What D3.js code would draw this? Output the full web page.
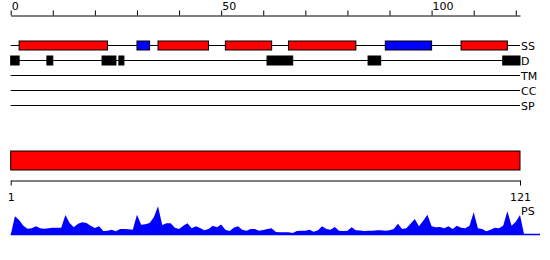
<!DOCTYPE html>
<html>
<head>
<meta charset="utf-8">
<script src="https://cdn.jsdelivr.net/npm/d3@7"></script>
<style>
  body { margin: 0; background: #fff; }
  svg { display: block; font-family: "DejaVu Sans", sans-serif; font-size: 11px; }
</style>
</head>
<body>
<div id="chart"></div>
<script>
'use strict';

// sequence length and ruler ticks
const seqLength = 121;
const topTicks = [0, 10, 20, 30, 40, 50, 60, 70, 80, 90, 100, 110, 120];
const topTickLabels = [0, 50, 100];
const bottomTicks = [1, 121];

// feature tracks
const trackNames = ['SS', 'D', 'TM', 'CC', 'SP'];
const ssHelices = [[2, 23], [35, 47], [51, 62], [66, 82], [107, 118]];
const ssStrands = [[30, 33], [89, 100]];
const disorder = [[0, 2], [8.6, 10], [21.7, 25], [25.7, 26.9], [60.9, 67], [84.9, 87.9], [116.9, 121]];
const domains = [[0, 121]];

// PS profile, residues 1..121
const psValues = [
  18.7, 15, 9.3, 6.3, 6.7, 8.7, 6.7, 6.3, 6.7, 7.3,
  7.3, 7.3, 20, 12, 7.7, 11.3, 12.7, 12, 9.3, 7,
  8.7, 4, 4.3, 5.3, 3.7, 6, 6, 5.7, 5.3, 20.3,
  10.3, 10.7, 12, 17.7, 28.7, 10, 11.7, 11.7, 7.3, 6,
  9.3, 11.7, 6.7, 8.7, 7, 4.7, 6, 9.3, 7.7, 10.5,
  5.3, 4, 7.3, 8.7, 5.3, 4.3, 6, 6, 4.3, 5,
  6, 6.7, 3, 2.7, 2.7, 2.7, 2, 4, 4.3, 4.3,
  5.3, 3.3, 4.7, 8.7, 6, 5.3, 8, 4.3, 4, 4.3,
  7.7, 4.7, 4.5, 4, 4.3, 4.3, 4.7, 4.7, 4.3, 4.7,
  6, 11.3, 6, 6.7, 11.3, 16, 8.7, 14.3, 20.3, 8.7,
  7.7, 8, 6.7, 8.7, 6, 9.3, 7.3, 6.7, 9.3, 22.7,
  6.7, 6, 3.7, 5.3, 7.3, 6.7, 9.3, 23.7, 9.3, 13.3,
  20
];

const width = 550;
const height = 260;
const left = 10.7;
const right = 520;

const svg = d3.select('#chart').append('svg')
  .attr('width', width)
  .attr('height', height);

const x = d3.scaleLinear()
  .domain([0, seqLength])
  .range([left, right]);

const xBottom = d3.scaleLinear()
  .domain([1, seqLength])
  .range([left, right]);

// top ruler
const topAxis = d3.axisTop(x)
  .tickValues(topTicks)
  .tickSize(5)
  .tickSizeOuter(0)
  .tickFormat(d => topTickLabels.includes(d) ? d : '');

const gTop = svg.append('g')
  .attr('transform', 'translate(0, 15.5)')
  .call(topAxis);
gTop.select('.domain').attr('stroke', '#000');
gTop.selectAll('.tick line').attr('stroke', '#000');
gTop.selectAll('.tick text')
  .attr('fill', '#000')
  .attr('text-anchor', 'start')
  .attr('x', 0.5)
  .attr('y', -6)
  .attr('dy', 0)
  .style('font-size', '11px')
  .style('font-family', 'DejaVu Sans');

// tracks
const trackY = d3.scalePoint()
  .domain(trackNames)
  .range([45.5, 105.5]);

svg.append('g')
  .selectAll('line')
  .data(trackNames)
  .join('line')
  .attr('x1', x(0))
  .attr('x2', x(seqLength))
  .attr('y1', d => trackY(d))
  .attr('y2', d => trackY(d))
  .attr('stroke', '#000')
  .attr('stroke-width', 1);

svg.append('g')
  .selectAll('text')
  .data(trackNames)
  .join('text')
  .attr('x', x(seqLength) + 1)
  .attr('y', d => trackY(d) + 4.5)
  .attr('fill', '#000')
  .text(d => d);

function drawBoxes(data, track, fill, boxHeight) {
  svg.append('g')
    .selectAll('rect')
    .data(data)
    .join('rect')
    .attr('x', d => x(d[0]))
    .attr('width', d => x(d[1]) - x(d[0]))
    .attr('y', trackY(track) - boxHeight / 2)
    .attr('height', boxHeight)
    .attr('fill', fill)
    .attr('stroke', '#000')
    .attr('stroke-width', 1);
}

drawBoxes(ssHelices, 'SS', '#ff0000', 9);
drawBoxes(ssStrands, 'SS', '#0000ff', 9);
drawBoxes(disorder, 'D', '#000', 9);

// domain bar
svg.append('g')
  .selectAll('rect')
  .data(domains)
  .join('rect')
  .attr('x', d => x(d[0]))
  .attr('width', d => x(d[1]) - x(d[0]))
  .attr('y', 151)
  .attr('height', 19)
  .attr('fill', '#ff0000')
  .attr('stroke', '#000')
  .attr('stroke-width', 1);

// bottom ruler
const bottomAxis = d3.axisBottom(xBottom)
  .tickValues(bottomTicks)
  .tickSize(5)
  .tickSizeOuter(0);

const gBottom = svg.append('g')
  .attr('transform', 'translate(0, 180.5)')
  .call(bottomAxis);
gBottom.select('.domain').attr('stroke', '#000');
gBottom.selectAll('.tick line').attr('stroke', '#000');
gBottom.selectAll('.tick text')
  .attr('fill', '#000')
  .attr('y', 20)
  .attr('dy', 0)
  .style('font-size', '11px')
  .style('font-family', 'DejaVu Sans');

// PS profile
const psY = d3.scaleLinear()
  .domain([0, 30])
  .range([235, 205]);

const psPoints = [[0, 0]]
  .concat(psValues.map((v, i) => [i + 1, v]))
  .concat([[seqLength + 1, 0]]);

const area = d3.area()
  .x(d => x(d[0]))
  .y0(psY(0))
  .y1(d => psY(d[1]));

svg.append('path')
  .datum(psPoints)
  .attr('d', area)
  .attr('fill', '#0000ff');

svg.append('line')
  .attr('x1', x(0))
  .attr('x2', width - 10)
  .attr('y1', psY(0) - 0.5)
  .attr('y2', psY(0) - 0.5)
  .attr('stroke', '#0000ff')
  .attr('stroke-width', 1.5);

svg.append('text')
  .attr('x', x(seqLength) + 1)
  .attr('y', 215)
  .attr('fill', '#000')
  .text('PS');
</script>
</body>
</html>
